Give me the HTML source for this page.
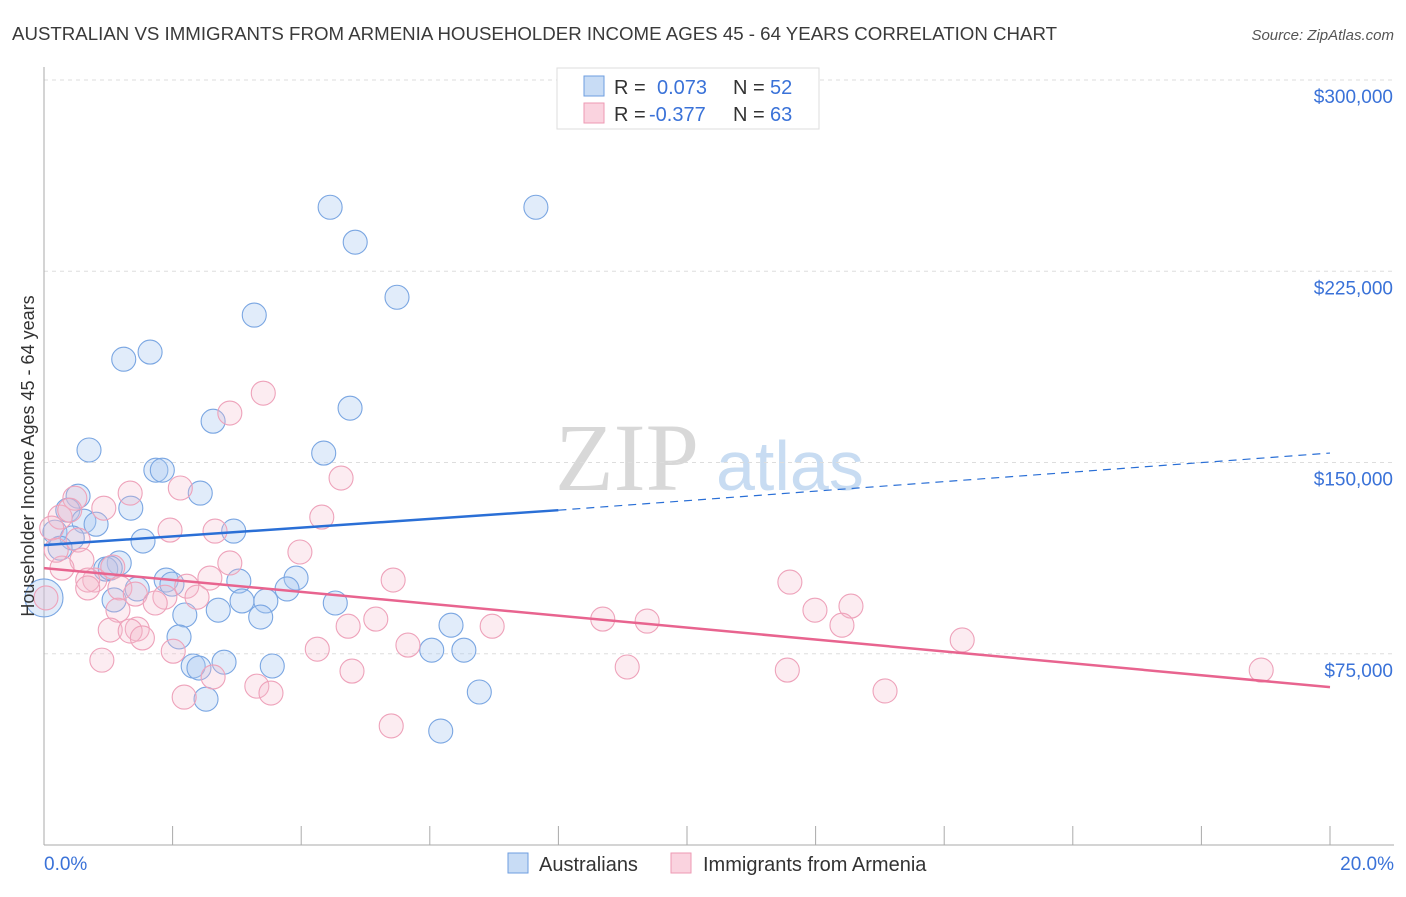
<!DOCTYPE html>
<html><head><meta charset="utf-8"><style>
body{margin:0;background:#fff;font-family:"Liberation Sans",sans-serif}
</style></head><body>
<svg id="c" width="1406" height="892" xmlns="http://www.w3.org/2000/svg" font-family="Liberation Sans, sans-serif">
<text x="12" y="40" font-size="18" fill="#3a3a3a" textLength="1045" lengthAdjust="spacingAndGlyphs">AUSTRALIAN VS IMMIGRANTS FROM ARMENIA HOUSEHOLDER INCOME AGES 45 - 64 YEARS CORRELATION CHART</text>
<text x="1394" y="40" font-size="15" fill="#555" text-anchor="end" font-style="italic">Source: ZipAtlas.com</text>
<text x="555" y="490" font-size="96" fill="#d8d8d8" font-family="Liberation Serif, serif">ZIP</text>
<text x="716" y="490" font-size="70" fill="#c8dcf2">atlas</text>
<g id="grid"></g><g id="axes"></g><g id="pts"></g><g id="lines"></g>
<text transform="translate(34,456) rotate(-90)" font-size="18" fill="#333" text-anchor="middle">Householder Income Ages 45 - 64 years</text>
<g>
<rect x="557" y="68" width="262" height="61" fill="#fff" stroke="#ddd"/>
<rect x="584" y="76" width="20" height="20" fill="#c8dcf5" stroke="#6e9ee0"/>
<rect x="584" y="103" width="20" height="20" fill="#fad3df" stroke="#ee9ab3"/>
<text y="94" font-size="20" fill="#333"><tspan x="614">R =</tspan><tspan x="657" fill="#3a72d8">0.073</tspan><tspan x="733">N =</tspan><tspan x="770" fill="#3a72d8">52</tspan></text>
<text y="121" font-size="20" fill="#333"><tspan x="614">R =</tspan><tspan x="649" fill="#3a72d8">-0.377</tspan><tspan x="733">N =</tspan><tspan x="770" fill="#3a72d8">63</tspan></text>
</g>
<g>
<rect x="508" y="853" width="20" height="20" fill="#c8dcf5" stroke="#6e9ee0"/>
<text x="539" y="871" font-size="20" fill="#333">Australians</text>
<rect x="671" y="853" width="20" height="20" fill="#fad3df" stroke="#ee9ab3"/>
<text x="703" y="871" font-size="20" fill="#333">Immigrants from Armenia</text>
</g>
</svg>
<script>
const yTicks=[75000,150000,225000,300000];
const yTickLabels=["$75,000","$150,000","$225,000","$300,000"];
const xTickLabels=["0.0%","20.0%"];
const blueX=[4.45,7.65,4.84,5.49,3.27,1.65,1.24,4.76,2.63,0.70,4.35,1.74,1.84,0.53,2.43,0.37,1.35,0.62,0.81,2.95,0.17,0.44,1.54,0.25,1.17,0.96,1.03,3.92,1.90,3.03,1.99,1.45,3.78,1.09,3.08,3.45,4.53,2.71,2.19,3.37,6.33,2.10,6.03,6.53,2.80,2.32,2.41,3.55,6.77,2.52,6.17,0];
const blueY=[250100,250100,236400,214800,207800,193300,190500,171300,166200,154900,153700,147000,147000,136800,138000,131300,132100,127000,125800,123100,122700,120400,119200,116400,110600,108200,108600,104700,103900,103500,102300,100400,100400,96100,95700,95700,94900,92100,90200,89400,86200,81600,76400,76400,71700,70200,69400,70200,60000,57200,44700,96900];
const blueR=[12,12,12,12,12,12,12,12,12,12,12,12,12,12,12,12,12,12,12,12,12,12,12,12,12,12,12,12,12,12,12,12,12,12,12,12,12,12,12,12,12,12,12,12,12,12,12,12,12,12,12,19];
const pinkX=[3.41,2.89,4.62,2.12,1.34,0.48,0.93,4.32,0.25,0.40,1.96,2.66,0.12,0.53,3.98,0.59,2.89,0.28,0.79,1.07,0.68,5.43,2.58,11.60,2.22,1.18,0.68,1.42,2.38,1.88,1.73,1.15,12.55,11.99,5.16,8.69,9.38,6.97,4.73,12.41,1.03,1.45,1.34,1.53,14.28,5.66,4.25,2.01,0.90,9.07,11.56,4.79,18.93,2.63,3.31,13.08,3.53,2.18,5.40,0.03,0.19];
const pinkY=[177200,169400,143900,140000,138000,136000,132100,128600,128600,131300,123500,123100,124300,119600,114900,111700,110600,108600,103900,109000,103900,103900,104700,103100,101500,100800,100800,98400,97200,97200,94900,92100,93700,92100,88600,88600,87800,85800,85800,86200,84300,84700,83900,81200,80400,78400,76800,76000,72500,69800,68600,68200,68600,65900,62300,60400,59600,58000,46700,96900,115600];
const blueTrend=[[0,117600],[8.0,131300],[20,153700]];
const pinkTrend=[[0,108600],[20,61900]];
const X=p=>44+p/20*1286, Y=v=>845-v/300000*765;
const NS="http://www.w3.org/2000/svg";
function mk(par,tag,at){const e=document.createElementNS(NS,tag);for(const k in at)e.setAttribute(k,at[k]);document.getElementById(par).appendChild(e);return e;}
yTicks.forEach((t,i)=>{
 const g=mk('grid','line',{x1:44,x2:1394,y1:Y(t),y2:Y(t),stroke:'#ddd','stroke-dasharray':'4,4'});
 
 
 const l=mk('axes','text',{x:1393,y:Y(t)+23,'font-size':19,fill:'#3a72d8','text-anchor':'end'});
 l.textContent=yTickLabels[i];
 
 
});
const ax=mk('axes','line',{x1:44,x2:44,y1:67,y2:845,stroke:'#aaa'});


const bx=mk('axes','line',{x1:44,x2:1394,y1:845,y2:845,stroke:'#aaa'});


for(let p=2;p<=20;p+=2){const t=mk('axes','line',{x1:X(p),x2:X(p),y1:826,y2:845,stroke:'#aaa'});
 
 }
[[0,'start',44],[20,'end',1394]].forEach((d,i)=>{const t=mk('axes','text',{x:d[2],y:870,'font-size':19,fill:'#3a72d8','text-anchor':d[1]});t.textContent=xTickLabels[i];
 
 });
blueX.forEach((x,i)=>{const c=mk('pts','circle',{cx:X(x),cy:Y(blueY[i]),r:blueR[i],fill:'rgba(170,200,240,0.35)',stroke:'#7aa6e2','stroke-width':1.1});
 
 });
pinkX.forEach((x,i)=>{const c=mk('pts','circle',{cx:X(x),cy:Y(pinkY[i]),r:12,fill:'rgba(246,185,205,0.28)',stroke:'#eea2ba','stroke-width':1.1});
 
 });
const b1=mk('lines','line',{x1:X(blueTrend[0][0]),y1:Y(blueTrend[0][1]),x2:X(blueTrend[1][0]),y2:Y(blueTrend[1][1]),stroke:'#2a6fd6','stroke-width':2.5});


const b2=mk('lines','line',{x1:X(blueTrend[1][0]),y1:Y(blueTrend[1][1]),x2:X(blueTrend[2][0]),y2:Y(blueTrend[2][1]),stroke:'#2a6fd6','stroke-width':1.2,'stroke-dasharray':'8,6'});


const p1=mk('lines','line',{x1:X(pinkTrend[0][0]),y1:Y(pinkTrend[0][1]),x2:X(pinkTrend[1][0]),y2:Y(pinkTrend[1][1]),stroke:'#e8648f','stroke-width':2.5});


</script>
</body></html>
